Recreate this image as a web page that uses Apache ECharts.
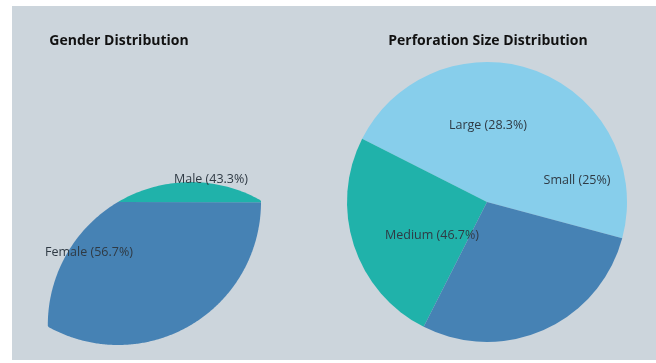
<!DOCTYPE html>
<html>
<head>
<meta charset="utf-8">
<script src="https://cdn.jsdelivr.net/npm/echarts@6/dist/echarts.min.js"></script>
<style>
  html, body { margin: 0; padding: 0; background: #ffffff; }
  #chart { position: absolute; left: 12px; top: 6px; width: 644px; height: 354px; }
</style>
</head>
<body>
<div id="chart"></div>
<script>
// Gender split
const genderCategories = ['Male', 'Female'];
const genderValues = [43.3, 56.7];

// Perforation size split (drawing order)
const sizeCategories = ['Medium', 'Small', 'Large'];
const sizeValues = [46.7, 25, 28.3];

const FONT = '"Open Sans", "Noto Sans", sans-serif';
const TEAL = '#20b2aa';
const STEEL = '#4682b4';
const SKY = '#87ceeb';
const LABEL_COLOR = '#2f3a44';

// Layout of the gender panel: wedge centre, radius, and the circular window it is seen through
const genderLayout = { cx: 106, cy: 196, r: 143, windowDir: -59.4, startAngle: 204 };
const genderColors = { Male: STEEL, Female: TEAL };
const genderLabelPos = { Male: [199, 173], Female: [77, 246] };

// Layout of the size panel
const sizeColors = { Medium: SKY, Small: TEAL, Large: STEEL };
const sizeLabelPos = { Large: [476, 119], Small: [565, 174], Medium: [420, 229] };

const genderTotal = genderValues.reduce((a, b) => a + b, 0);

// Angular range (degrees, counter-clockwise) of each gender wedge
function genderRange(i) {
  let start = genderLayout.startAngle;
  for (let k = 0; k < i; k++) start += genderValues[k] / genderTotal * 360;
  return [start, start + genderValues[i] / genderTotal * 360];
}

function renderGender(params, api) {
  const i = params.dataIndex;
  const name = genderCategories[i];
  const [a0, a1] = genderRange(i);
  const { cx, cy, r, windowDir } = genderLayout;
  const psi = windowDir * Math.PI / 180;
  const pts = [[cx, cy]];
  const steps = Math.max(2, Math.ceil((a1 - a0) / 0.5));
  for (let s = 0; s <= steps; s++) {
    const th = (a0 + (a1 - a0) * s / steps) * Math.PI / 180;
    // radial reach inside the window circle, which passes through the wedge centre
    const reach = Math.min(r, Math.max(0, 2 * r * Math.cos(th - psi)));
    pts.push([cx + reach * Math.cos(th), cy - reach * Math.sin(th)]);
  }
  const lp = genderLabelPos[name];
  return {
    type: 'group',
    children: [
      { type: 'polygon', shape: { points: pts }, style: { fill: genderColors[name], stroke: null } },
      {
        type: 'text', x: lp[0], y: lp[1], z2: 10,
        style: {
          text: name + ' (' + api.value(0) + '%)',
          fill: LABEL_COLOR, fontSize: 12.5, fontFamily: FONT,
          align: 'center', verticalAlign: 'middle'
        }
      }
    ]
  };
}

const chart = echarts.init(document.getElementById('chart'), null, { renderer: 'canvas' });

chart.setOption({
  backgroundColor: '#ccd5dc',
  animation: false,
  title: [
    {
      text: 'Gender Distribution', left: 102, top: 23, textAlign: 'center',
      textStyle: { fontFamily: FONT, fontSize: 14, fontWeight: 'bold', color: '#111111' }
    },
    {
      text: 'Perforation Size Distribution', left: 471, top: 23, textAlign: 'center',
      textStyle: { fontFamily: FONT, fontSize: 14, fontWeight: 'bold', color: '#111111' }
    }
  ],
  series: [
    {
      type: 'custom',
      coordinateSystem: 'none',
      renderItem: renderGender,
      data: genderValues.map((v, i) => ({ name: genderCategories[i], value: [v] }))
    },
    {
      type: 'pie',
      center: [475, 196],
      radius: 140,
      startAngle: -15,
      clockwise: false,
      avoidLabelOverlap: false,
      itemStyle: { borderWidth: 0 },
      label: {
        show: true, position: 'inside',
        formatter: (p) => p.name + ' (' + p.value + '%)',
        color: LABEL_COLOR, fontSize: 12.5, fontFamily: FONT
      },
      labelLine: { show: false },
      labelLayout: (p) => {
        const pos = sizeLabelPos[sizeCategories[p.dataIndex]];
        return { x: pos[0], y: pos[1], align: 'center', verticalAlign: 'middle' };
      },
      emphasis: { disabled: true },
      data: sizeValues.map((v, i) => ({
        name: sizeCategories[i], value: v,
        itemStyle: { color: sizeColors[sizeCategories[i]] }
      }))
    }
  ]
});
</script>
</body>
</html>
